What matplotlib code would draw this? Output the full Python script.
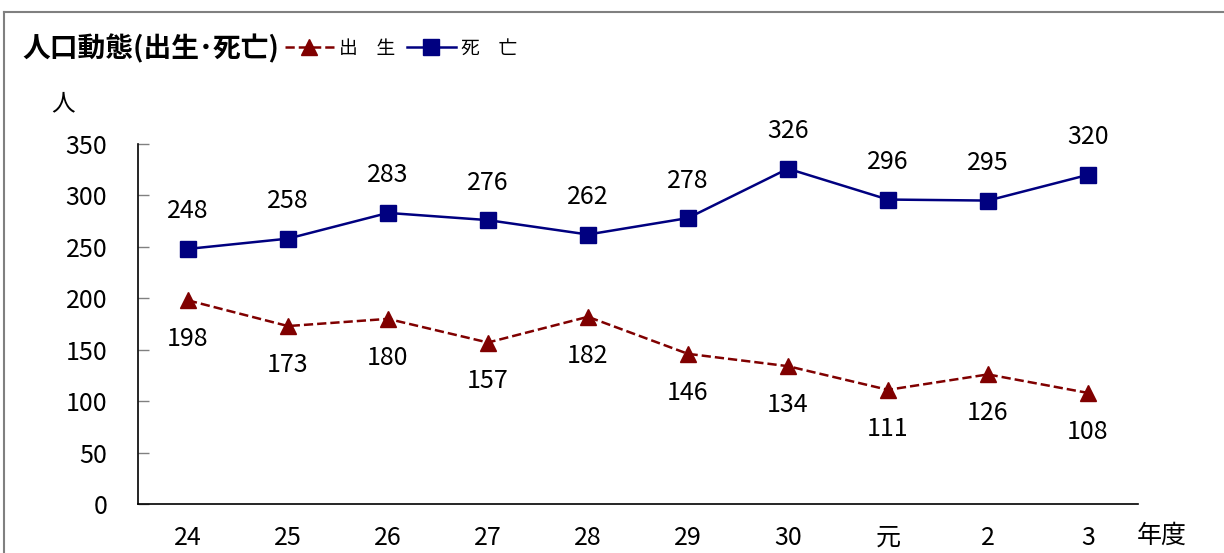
import numpy as np
import matplotlib
matplotlib.use("Agg")
import matplotlib.pyplot as plt
from matplotlib.lines import Line2D

plt.rcParams['font.family'] = ['Noto Sans CJK JP', 'DejaVu Sans']

years = ['24', '25', '26', '27', '28', '29', '30', '元', '2', '3']
births = [198, 173, 180, 157, 182, 146, 134, 111, 126, 108]
deaths = [248, 258, 283, 276, 262, 278, 326, 296, 295, 320]

red = '#800000'
navy = '#000080'

fig = plt.figure(figsize=(12.24, 5.53), dpi=100)
ax = fig.add_axes([0.1127, 0.0886, 0.817, 0.651])

x = np.arange(len(years))
ax.plot(x, births, color=red, ls='--', lw=1.8, marker='^', ms=12, label='出\u3000生')
ax.plot(x, deaths, color=navy, ls='-', lw=1.8, marker='s', ms=12, label='死\u3000亡')

for xi, b, d in zip(x, births, deaths):
    ax.annotate(str(b), (xi, b), xytext=(0, -28), textcoords='offset points',
                ha='center', va='center', fontsize=18)
    ax.annotate(str(d), (xi, d), xytext=(0, 27), textcoords='offset points',
                ha='center', va='center', fontsize=18)

ax.set_xlim(-0.5, 9.5)
ax.set_ylim(0, 350)
ax.set_yticks(range(0, 351, 50))
ax.set_xticks(x)
ax.set_xticklabels(years)
ax.tick_params(axis='y', direction='in', length=8, width=1, pad=22, labelsize=18, color='#808080')
ax.tick_params(axis='x', length=0, pad=15, labelsize=18)
for s in ['top', 'right']:
    ax.spines[s].set_visible(False)
for s in ['left', 'bottom']:
    ax.spines[s].set_linewidth(1.2)

fig.text(0.018, 0.912, '人口動態(出生\uff65死亡)', fontsize=20, fontweight='bold',
         ha='left', va='center')
fig.text(63 / 1224, 1 - 104 / 553, '人', fontsize=17, ha='center', va='center')
fig.text(1162 / 1224, 1 - 536 / 553, '年度', fontsize=18, ha='center', va='center')

h, l = ax.get_legend_handles_labels()
fig.legend(h, l, loc='center left', bbox_to_anchor=(285 / 1224, 0.913), ncol=2,
           frameon=False, fontsize=13.5, handlelength=2.6, handletextpad=0.3,
           columnspacing=0.6, borderpad=0, borderaxespad=0, markerscale=1.0)

# outer frame of the chart
fig.add_artist(Line2D([4 / 1224, 1], [1 - 12 / 553, 1 - 12 / 553],
                      transform=fig.transFigure, color='#808080', lw=1.5))
fig.add_artist(Line2D([4 / 1224, 4 / 1224], [0, 1 - 12 / 553],
                      transform=fig.transFigure, color='#808080', lw=1.5))

fig.savefig('out.png', dpi=100)
